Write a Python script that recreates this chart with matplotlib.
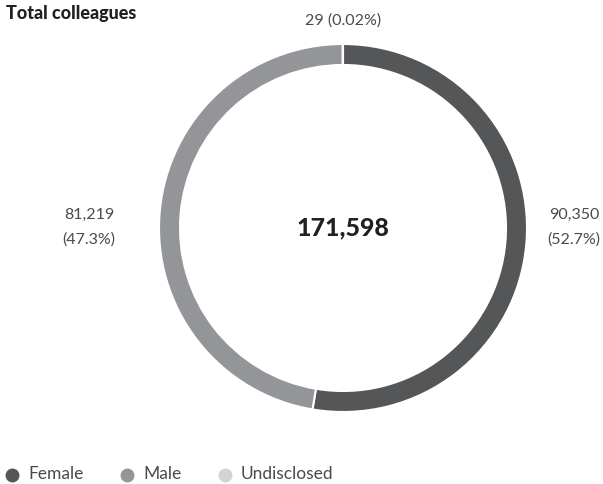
import matplotlib
matplotlib.use("Agg")
import matplotlib.pyplot as plt

categories = ["Female", "Male", "Undisclosed"]
values = [90350, 81219, 29]
pct_labels = ["52.7%", "47.3%", "0.02%"]
total_label = "171,598"
colors = ["#555658", "#939598", "#d1d3d4"]

W, H = 603, 484
fig = plt.figure(figsize=(W / 100, H / 100), dpi=100)
ax = fig.add_axes([0, 0, 1, 1])

cx, cy, R, width = 343, 228, 184, 21
ax.pie(values, colors=colors, startangle=-90, counterclock=True,
       center=(cx, cy), radius=R, frame=True,
       wedgeprops=dict(width=width, edgecolor="white", linewidth=1.5))
ax.set_xlim(0, W)
ax.set_ylim(H, 0)
ax.set_aspect("equal")
ax.axis("off")

fam = ["Lato", "DejaVu Sans"]
tc = "#4a4a4c"
ax.text(6, 14, "Total colleagues", fontsize=13, fontweight="black", family=fam,
        color="#231f20", va="center", ha="left")
ax.text(cx, 228, total_label, fontsize=18, fontweight="black", family=fam,
        color="#231f20", va="center", ha="center")
ax.text(343, 21, f"{values[2]} ({pct_labels[2]})", fontsize=11.5, family=fam,
        color=tc, va="center", ha="center")
ax.text(89, 215, f"{values[1]:,}", fontsize=11.5, family=fam, color=tc,
        va="center", ha="center")
ax.text(89, 240, f"({pct_labels[1]})", fontsize=11.5, family=fam, color=tc,
        va="center", ha="center")
ax.text(574, 215, f"{values[0]:,}", fontsize=11.5, family=fam, color=tc,
        va="center", ha="center")
ax.text(574, 240, f"({pct_labels[0]})", fontsize=11.5, family=fam, color=tc,
        va="center", ha="center")

leg_x = [12, 127, 225]
leg_y = 474
for x, name, c in zip(leg_x, categories, colors):
    ax.plot([x], [leg_y + 1], "o", color=c, markersize=9, clip_on=False)
    ax.text(x + 16, leg_y, name, fontsize=12.5, family=fam, color=tc,
            va="center", ha="left")

fig.savefig("out.png", dpi=100)
